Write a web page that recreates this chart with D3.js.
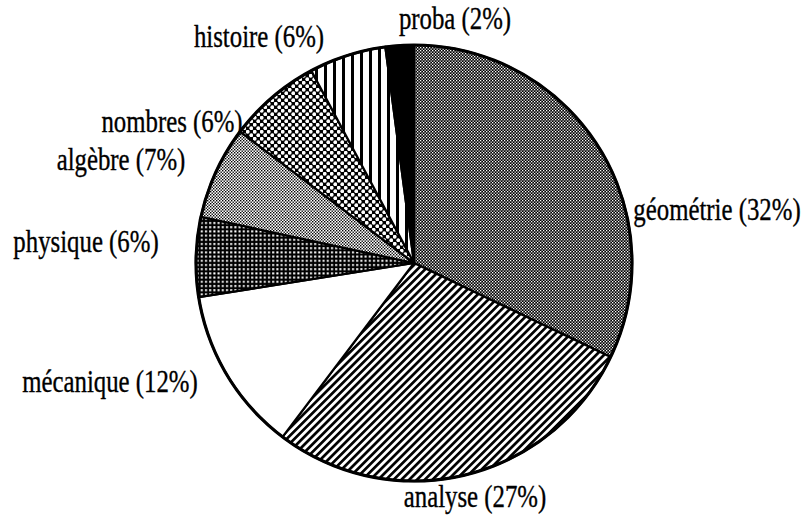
<!DOCTYPE html>
<html><head><meta charset="utf-8">
<script src="https://cdn.jsdelivr.net/npm/d3@7"></script>
<style>html,body{margin:0;padding:0;background:#fff;}svg{display:block;}</style>
</head><body>
<svg id="chart" width="808" height="517"></svg>
<script>
// ---- data ----
const categories = ["géométrie", "analyse", "mécanique", "physique", "algèbre", "nombres", "histoire", "proba"];
const values = [32.1, 28.2, 12.2, 5.9, 6.9, 6.9, 5.7, 2.1];
const percentLabels = ["32%", "27%", "12%", "6%", "7%", "6%", "6%", "2%"];

// ---- layout ----
const W = 808, H = 517;
const cx = 414, cy = 263, R = 218;
const patternIds = ["pGeo", "pAna", "pMec", "pPhy", "pAlg", "pNom", "pHis", "pPro"];
const labelAnchors = [[717, 220], [475, 507], [110, 392], [86, 252], [121, 170], [172, 132], [259, 47], [455, 29]];

const svg = d3.select("#chart");
const defs = svg.append("defs");

function pat(id, w, h, build, rot) {
  const p = defs.append("pattern").attr("id", id).attr("patternUnits", "userSpaceOnUse")
    .attr("width", w).attr("height", h);
  if (rot) p.attr("patternTransform", "rotate(" + rot + ")");
  build(p);
}
// géométrie: dense dark checker
pat("pGeo", 3, 3, p => {
  p.append("rect").attr("width", 3).attr("height", 3).attr("fill", "#000");
  p.append("rect").attr("x", 0).attr("y", 0).attr("width", 1.3).attr("height", 1.3).attr("fill", "#fff");
  p.append("rect").attr("x", 1.5).attr("y", 1.5).attr("width", 1.3).attr("height", 1.3).attr("fill", "#fff");
});
// analyse: diagonal stripes
pat("pAna", 5.5, 5.5, p => {
  p.append("rect").attr("width", 5.5).attr("height", 5.5).attr("fill", "#fff");
  p.append("rect").attr("width", 2.7).attr("height", 5.5).attr("fill", "#000");
}, 45);
// mécanique: white
pat("pMec", 4, 4, p => {
  p.append("rect").attr("width", 4).attr("height", 4).attr("fill", "#fff");
});
// physique: black with small white dots
pat("pPhy", 4.2, 4.2, p => {
  p.append("rect").attr("width", 4.2).attr("height", 4.2).attr("fill", "#000");
  p.append("rect").attr("x", 1).attr("y", 1).attr("width", 2).attr("height", 2).attr("fill", "#fff");
});
// algèbre: light fine checker
pat("pAlg", 3, 3, p => {
  p.append("rect").attr("width", 3).attr("height", 3).attr("fill", "#fff");
  p.append("rect").attr("x", 0).attr("y", 0).attr("width", 1.4).attr("height", 1.4).attr("fill", "#000");
  p.append("rect").attr("x", 1.5).attr("y", 1.5).attr("width", 1.4).attr("height", 1.4).attr("fill", "#000");
});
// nombres: coarse checker of white cells
pat("pNom", 7, 7, p => {
  p.append("rect").attr("width", 7).attr("height", 7).attr("fill", "#000");
  p.append("circle").attr("cx", 1.75).attr("cy", 1.75).attr("r", 1.9).attr("fill", "#fff");
  p.append("circle").attr("cx", 5.25).attr("cy", 5.25).attr("r", 1.9).attr("fill", "#fff");
});
// histoire: vertical stripes
pat("pHis", 9, 9, p => {
  p.append("rect").attr("width", 9).attr("height", 9).attr("fill", "#fff");
  p.append("rect").attr("width", 3).attr("height", 9).attr("fill", "#000");
});
// proba: solid black
pat("pPro", 4, 4, p => {
  p.append("rect").attr("width", 4).attr("height", 4).attr("fill", "#000");
});

const pie = d3.pie().sort(null).value(d => d);
const arcs = pie(values);
const arc = d3.arc().innerRadius(0).outerRadius(R);

const g = svg.append("g").attr("transform", `translate(${cx},${cy})`);
g.selectAll("path.slice").data(arcs).enter().append("path")
  .attr("class", "slice")
  .attr("d", arc)
  .attr("fill", (d, i) => `url(#${patternIds[i]})`)
  .attr("stroke", "#000").attr("stroke-width", 2.2).attr("stroke-linejoin", "round");
g.append("circle").attr("r", R).attr("fill", "none").attr("stroke", "#000").attr("stroke-width", 3.2);

svg.append("g").selectAll("text").data(categories).enter().append("text")
  .attr("transform", (d, i) => `translate(${labelAnchors[i][0]},${labelAnchors[i][1]}) scale(0.8,1)`)
  .attr("text-anchor", "middle")
  .attr("font-family", "'Liberation Serif', 'Times New Roman', serif")
  .attr("font-size", 31)
  .attr("fill", "#000")
  .attr("stroke", "#000").attr("stroke-width", 0.35)
  .text((d, i) => `${d} (${percentLabels[i]})`);
</script>
</body></html>
